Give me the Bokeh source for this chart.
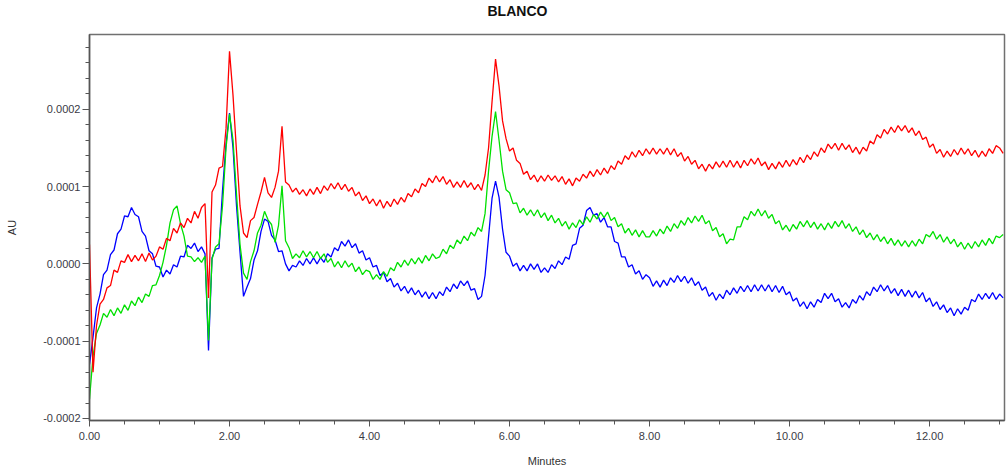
from bokeh.plotting import figure
from bokeh.models import FixedTicker, NumeralTickFormatter, Range1d, ColumnDataSource
from bokeh.embed import file_html
from bokeh.resources import INLINE

# ---- data (absorbance, in units of 1e-5 AU) ----
# detector sampling grid: one reading every 0.05 min
minutes = [round(0.05 * i, 2) for i in range(262)]

red_e5 = [
    2.5, -14.0, -8.0, -5.2, -4.6, -3.1, -2.8, -0.8, -1.1, 0.4, 0.2, 1.2, 0.3, 1.1, 0.4, 1.3, 0.3, 1.4, 0.5, 1.0,
    2.2, 1.9, 3.3, 3.0, 4.6, 4.0, 5.3, 4.7, 5.9, 5.3, 6.8, 5.9, 7.3, 7.8, -4.4, 9.3, 10.2, 12.4, 12.6, 17.5,
    27.5, 21.8, 14.5, 7.5, 4.0, 3.4, 5.6, 6.0, 7.7, 9.3, 11.2, 9.2, 8.6, 9.9, 12.0, 17.8, 10.6, 10.2, 9.3, 9.8,
    9.0, 9.6, 8.8, 9.7, 9.0, 9.9, 9.1, 10.1, 9.5, 10.4, 9.7, 10.5, 9.6, 10.3, 9.4, 9.9, 8.8, 9.3, 8.2, 8.8,
    7.8, 8.4, 7.5, 8.3, 7.2, 8.1, 7.4, 8.4, 7.7, 8.6, 8.0, 9.1, 8.7, 9.7, 9.2, 10.4, 10.0, 11.1, 10.5, 11.4,
    10.6, 11.3, 10.3, 10.9, 9.9, 10.6, 9.9, 10.8, 9.9, 10.5, 9.6, 10.3, 9.5, 11.5, 15.0, 21.0, 26.5, 23.0, 18.5, 16.2,
    14.6, 15.0, 13.4, 13.0, 11.6, 12.0, 10.9, 11.5, 10.6, 11.4, 10.7, 11.5, 10.8, 11.4, 10.6, 11.3, 10.3, 11.0, 10.1, 11.1,
    10.7, 11.6, 11.1, 12.0, 11.3, 12.2, 11.5, 12.4, 11.7, 12.7, 12.2, 13.3, 12.9, 14.0, 13.5, 14.5, 13.8, 14.7, 14.0, 14.9,
    14.2, 15.0, 14.2, 14.9, 14.2, 15.0, 14.1, 14.9, 13.9, 14.4, 13.3, 13.9, 12.9, 13.4, 12.3, 12.9, 12.0, 12.9, 12.3, 13.2,
    12.5, 13.3, 12.5, 13.4, 12.5, 13.3, 12.4, 13.4, 12.7, 13.6, 12.9, 13.7, 12.7, 13.2, 12.2, 13.0, 12.3, 13.2, 12.5, 13.4,
    12.6, 13.5, 12.8, 13.8, 13.1, 14.1, 13.5, 14.5, 13.9, 15.0, 14.4, 15.5, 14.9, 15.6, 14.7, 15.6, 14.8, 15.4, 14.4, 15.1,
    14.2, 15.1, 14.6, 15.9, 15.5, 16.7, 16.3, 17.4, 16.8, 17.7, 17.0, 17.9, 17.2, 17.9, 17.0, 17.6, 16.6, 17.2, 16.1, 16.4,
    15.1, 15.5, 14.3, 14.8, 13.8, 14.6, 13.9, 14.8, 14.1, 15.0, 14.2, 14.9, 14.0, 14.7, 13.8, 14.6, 13.9, 14.9, 14.3, 15.3,
    15.0, 14.3,
]

green_e5 = [
    -17.5, -12.0, -9.0, -7.9, -6.4, -6.9, -5.9, -6.7, -5.7, -6.4, -5.3, -6.0, -4.8, -5.4, -4.3, -5.0, -3.9, -4.2, -2.8, -2.7,
    -1.5, 0.2, 2.4, 5.3, 7.0, 7.5, 5.2, 3.6, 1.0, 0.9, 0.3, 0.8, 0.2, 1.0, -9.9, 0.6, 2.2, 2.6, 7.5, 15.0,
    19.4, 16.0, 9.0, 2.5, -1.2, -2.0, 0.3, 1.7, 4.0, 5.0, 6.8, 5.7, 5.1, 2.8, 5.0, 10.1, 3.0, 2.1, 0.7, 1.3,
    0.8, 1.7, 0.9, 1.6, 0.8, 1.6, 0.7, 1.3, 0.2, 0.7, -0.4, 0.3, -0.5, 0.4, -0.4, 0.1, -1.0, -0.4, -1.4, -0.8,
    -1.0, -2.0, -1.4, -2.0, -1.0, -1.6, -0.5, -0.9, 0.2, -0.4, 0.5, -0.2, 0.7, 0.0, 0.8, 0.1, 1.1, 0.4, 1.3, 0.7,
    0.9, 1.9, 1.3, 2.4, 2.0, 3.1, 2.6, 3.6, 3.0, 4.1, 3.6, 4.7, 4.2, 6.5, 12.0, 16.5, 19.7, 16.0, 12.0, 9.6,
    9.2, 7.8, 7.9, 6.6, 7.2, 6.3, 7.0, 6.2, 7.0, 6.0, 6.6, 5.6, 6.3, 5.3, 5.9, 4.9, 5.5, 4.5, 5.3, 4.7,
    5.7, 5.1, 6.1, 5.4, 6.4, 5.8, 6.7, 6.0, 6.7, 5.6, 6.0, 4.8, 5.2, 4.0, 4.6, 3.7, 4.4, 3.5, 4.3, 3.5,
    3.5, 4.3, 3.6, 4.5, 3.9, 4.9, 4.2, 5.2, 4.6, 5.6, 5.0, 6.0, 5.3, 6.2, 5.5, 6.3, 5.2, 5.6, 4.3, 4.7,
    3.5, 3.9, 2.6, 3.2, 3.1, 4.8, 4.8, 6.1, 5.7, 6.8, 6.2, 7.1, 6.2, 6.9, 5.9, 6.4, 5.2, 5.6, 4.4, 5.0,
    4.2, 5.1, 4.5, 5.5, 4.8, 5.6, 4.7, 5.4, 4.5, 5.2, 4.4, 5.3, 4.6, 5.5, 4.8, 5.6, 4.6, 5.2, 4.2, 4.8,
    3.8, 4.4, 3.4, 4.0, 3.1, 3.8, 2.9, 3.5, 2.6, 3.3, 2.4, 3.1, 2.3, 3.0, 2.2, 3.0, 2.3, 3.2, 2.6, 3.8,
    3.5, 4.2, 3.2, 3.8, 2.8, 3.5, 2.6, 3.2, 2.2, 2.8, 1.9, 2.7, 2.0, 2.9, 2.2, 3.1, 2.4, 3.3, 2.6, 3.6,
    3.4, 3.8,
]

blue_e5 = [
    -13.0, -9.5, -5.7, -3.9, -1.4, -0.8, 1.2, 1.8, 3.9, 4.5, 6.2, 6.1, 7.3, 6.4, 6.1, 4.2, 3.6, 1.7, 1.3, -0.3,
    -0.4, -1.7, -0.8, -1.3, -0.1, -0.4, 1.0, 0.9, 2.4, 2.0, 2.7, 1.6, 2.2, 1.3, -11.2, 0.8, 1.9, 2.0, 9.5, 15.5,
    19.5, 15.0, 7.5, 1.5, -4.2, -3.0, -1.9, 0.5, 1.7, 4.2, 5.8, 5.5, 3.7, 3.1, 1.6, 1.7, 0.0, -0.9, -0.2, -0.4,
    0.4, -0.2, 0.7, 0.0, 0.8, 0.0, 0.8, 0.2, 1.3, 0.9, 2.1, 1.7, 2.9, 2.3, 3.1, 2.1, 2.6, 1.4, 1.7, 0.5,
    0.8, -0.4, -0.2, -1.5, -1.1, -2.3, -1.9, -3.0, -2.5, -3.5, -2.9, -3.8, -3.1, -4.0, -3.4, -4.3, -3.6, -4.5, -3.7, -4.5,
    -3.6, -4.1, -3.0, -3.6, -2.6, -3.2, -2.2, -2.8, -2.2, -3.4, -3.2, -4.6, -4.2, -1.5, 3.5, 8.5, 10.7, 8.6, 4.5, 1.5,
    1.0, -0.3, 0.1, -0.9, -0.2, -0.9, 0.0, -0.7, 0.0, -1.1, -0.5, -1.1, -0.1, -0.6, 0.4, -0.1, 0.9, 0.6, 2.4, 2.6,
    4.6, 5.0, 6.9, 7.3, 6.3, 6.5, 5.4, 6.0, 4.8, 4.8, 2.9, 2.7, 0.9, 0.9, -0.4, -0.1, -1.3, -0.9, -2.0, -1.4,
    -1.8, -2.9, -2.2, -3.0, -2.1, -2.8, -1.8, -2.4, -1.5, -2.3, -1.6, -2.5, -1.8, -2.8, -2.3, -3.4, -3.0, -4.2, -3.7, -4.7,
    -3.9, -4.5, -3.4, -4.0, -3.1, -3.8, -2.9, -3.6, -2.8, -3.6, -2.7, -3.5, -2.7, -3.5, -2.7, -3.6, -2.8, -3.7, -2.9, -4.0,
    -3.6, -4.8, -4.4, -5.5, -4.9, -5.8, -4.9, -5.6, -4.6, -5.0, -3.8, -4.5, -3.8, -4.9, -4.5, -5.6, -5.0, -5.7, -4.6, -5.1,
    -4.1, -4.7, -3.6, -4.1, -3.0, -3.6, -2.7, -3.5, -2.8, -3.8, -3.2, -4.1, -3.3, -4.2, -3.4, -4.3, -3.5, -4.4, -3.7, -4.9,
    -4.4, -5.5, -4.9, -5.9, -5.3, -6.3, -5.7, -6.7, -5.8, -6.5, -5.6, -6.0, -4.6, -4.9, -3.9, -4.6, -3.8, -4.5, -3.7, -4.6,
    -3.9, -4.4,
]

x_ticks = [0, 2, 4, 6, 8, 10, 12]
x_minor_ticks = [0.5, 1, 1.5, 2.5, 3, 3.5, 4.5, 5, 5.5, 6.5, 7, 7.5, 8.5, 9, 9.5, 10.5, 11, 11.5, 12.5, 13]
y_ticks = [-0.0002, -0.0001, 0.0, 0.0001, 0.0002]
y_minor_ticks = [-0.00018, -0.00016, -0.00014, -0.00012, -0.00008, -0.00006, -0.00004, -0.00002,
                 0.00002, 0.00004, 0.00006, 0.00008, 0.00012, 0.00014, 0.00016, 0.00018,
                 0.00022, 0.00024, 0.00026, 0.00028]
title_text = "BLANCO"

SCALE = 1e-5
n = min(len(minutes), len(red_e5), len(green_e5), len(blue_e5))
src = ColumnDataSource(dict(
    t=minutes[:n],
    red=[v * SCALE for v in red_e5[:n]],
    green=[v * SCALE for v in green_e5[:n]],
    blue=[v * SCALE for v in blue_e5[:n]],
))

p = figure(width=1006, height=470, output_backend="svg", toolbar_location=None,
           x_range=Range1d(0, 13.07), y_range=Range1d(-0.0002026, 0.0002968),
           min_border_left=89, min_border_right=2, min_border_top=33, min_border_bottom=50)
p.background_fill_color = "white"
p.border_fill_color = "white"
p.outline_line_color = "#707070"
p.outline_line_width = 1.5
p.grid.visible = False

FONT = "Liberation Sans"
LBL = "#3a3a44"

p.title.text = title_text + "\n "
p.title.align = "left"
p.title.offset = 398
p.title.text_font = FONT
p.title.text_font_size = "14px"
p.title.text_font_style = "bold"
p.title.text_color = "#111111"
p.title.standoff = 0

xa = p.xaxis[0]
xa.ticker = FixedTicker(ticks=x_ticks, minor_ticks=x_minor_ticks)
xa.formatter = NumeralTickFormatter(format="0.00")
xa.axis_label = "Minutes"
ya = p.yaxis[0]
ya.ticker = FixedTicker(ticks=y_ticks, minor_ticks=y_minor_ticks)
ya.formatter = NumeralTickFormatter(format="0.0000")
ya.axis_label = "AU"

for ax in (xa, ya):
    ax.axis_line_color = "#555555"
    ax.axis_line_width = 1.5
    ax.major_tick_line_color = "#555555"
    ax.minor_tick_line_color = "#555555"
    ax.major_tick_in = 0
    ax.minor_tick_in = 0
    ax.major_label_text_font = FONT
    ax.major_label_text_font_size = "11px"
    ax.major_label_text_color = LBL
    ax.axis_label_text_font = FONT
    ax.axis_label_text_font_size = "11px"
    ax.axis_label_text_font_style = "normal"
    ax.axis_label_text_color = "#333333"

xa.major_tick_out = 6
xa.minor_tick_out = 4
xa.major_label_standoff = 5
xa.axis_label_standoff = 12
ya.major_tick_out = 7
ya.minor_tick_out = 4
ya.major_label_standoff = 2
ya.axis_label_standoff = 22

p.line("t", "blue", source=src, line_color="#0000ff", line_width=1.3)
p.line("t", "green", source=src, line_color="#00e000", line_width=1.3)
p.line("t", "red", source=src, line_color="#ff0000", line_width=1.3)

open("out.html", "w").write(file_html(p, INLINE))
